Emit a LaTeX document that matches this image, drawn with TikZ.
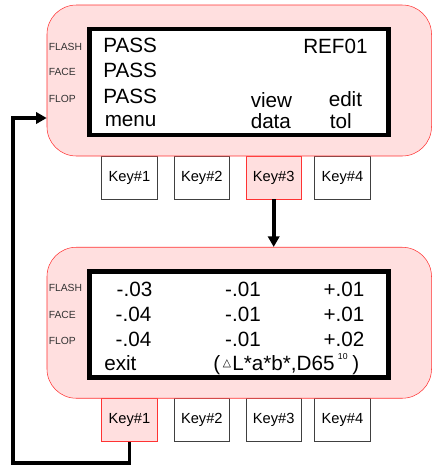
\documentclass[tikz,border=0pt]{standalone}
\usepackage{fontspec}
\setmainfont{Liberation Sans}
\newfontfamily\symfont{DejaVu Sans}
\usetikzlibrary{arrows.meta}
\definecolor{devpink}{HTML}{FFDFDF}
\definecolor{devred}{HTML}{FF3333}

\begin{document}
\begin{tikzpicture}[x=0.75pt,y=-0.75pt,
    device/.style={draw=devred, fill=devpink, rounded corners=22pt, minimum width=288.4pt, minimum height=113.25pt, inner sep=0pt},
    screen/.style={draw, line width=3.2pt, fill=white, minimum width=224.25pt, minimum height=79.5pt, inner sep=0pt},
    key/.style={draw=black!75, fill=white, minimum width=41.7pt, minimum height=32.25pt, inner sep=0pt, font=\fontsize{11}{13}\selectfont},
    pressed/.style={key, draw=devred, fill=devpink},
    lamp/.style={anchor=base west, text=black!80, inner sep=0pt, font=\fontsize{7.75}{9}\selectfont},
    lcd/.style={anchor=base west, inner sep=0pt, font=\fontsize{15.5}{18}\selectfont},
    num/.style={anchor=base, inner sep=0pt, font=\fontsize{15.5}{18}\selectfont},
    flow/.style={line width=2.8pt, -{Triangle[length=8pt,width=8.5pt]}}]
    \useasboundingbox (0,0) rectangle (432,465);
    % keys under the first unit
    \node[key] (topkey1) at (129.5,177.5) {Key\#1}; \node[key] (topkey2) at (201.8,177.5) {Key\#2}; \node[pressed] (topkey3) at (273.7,177.5) {Key\#3}; \node[key] (topkey4) at (342.5,177.5) {Key\#4};
    % keys under the second unit
    \node[pressed] (botkey1) at (129.5,420) {Key\#1}; \node[key] (botkey2) at (201.8,420) {Key\#2}; \node[key] (botkey3) at (273.7,420) {Key\#3}; \node[key] (botkey4) at (342.5,420) {Key\#4};
    % first unit: pass/fail screen
    \node[device] (top) at (239.25,80.5) {};
    \node[screen] (topscreen) at (239,81.75) {};
    \node[lamp] (topflash) at (48.5,50) {FLASH}; \node[lamp] (topface) at (48.5,75) {FACE}; \node[lamp] (topflop) at (48.5,102) {FLOP};
    \node[lcd] (pass1) at (103,52.7) {PASS}; \node[lcd] (pass2) at (103,77.3) {PASS}; \node[lcd] (pass3) at (103,103.3) {PASS}; \node[lcd] (menu) at (104.5,126) {menu};
    \node[lcd] (ref) at (303,53.3) {REF01};
    \node[lcd] (view) at (250.5,107) {view}; \node[lcd] (data) at (250.5,128.3) {data};
    \node[lcd] (edit) at (328.5,106.7) {edit}; \node[lcd] (tol) at (329.5,128) {tol};
    % second unit: colour difference screen
    \node[device] (bottom) at (239.25,322.75) {};
    \node[screen] (botscreen) at (239,324.6) {};
    \node[lamp] (botflash) at (48.5,291.7) {FLASH}; \node[lamp] (botface) at (48.5,318) {FACE}; \node[lamp] (botflop) at (48.5,344) {FLOP};
    \node[num] (d11) at (134.5,296) {-.03}; \node[num] (d12) at (243,296) {-.01}; \node[num] (d13) at (344,296) {+.01};
    \node[num] (d21) at (133.5,321) {-.04}; \node[num] (d22) at (243,321) {-.01}; \node[num] (d23) at (344,321) {+.01};
    \node[num] (d31) at (133.5,346.5) {-.04}; \node[num] (d32) at (243,346.5) {-.01}; \node[num] (d33) at (344,346.5) {+.02};
    \node[lcd] (exit) at (104,370.5) {exit};
    \node[lcd] (space) at (213,370.5) {(\hspace{2pt}\raisebox{3pt}{\symfont\fontsize{8}{9}\selectfont △}\hspace{1pt}L*a*b*,D65\hspace{2.5pt}\raisebox{8.5pt}{\fontsize{6.5}{7}\selectfont 10}\hspace{3.5pt})};
    % key paths
    \coordinate (loopcorner) at (13.3,462.8);
    \coordinate (entry) at (46.7,118);
    \draw[flow] (topkey3.south) -- (topkey3.south |- bottom.north);
    \draw[flow] (botkey1.south) |- (loopcorner) |- (entry);
\end{tikzpicture}
\end{document}
